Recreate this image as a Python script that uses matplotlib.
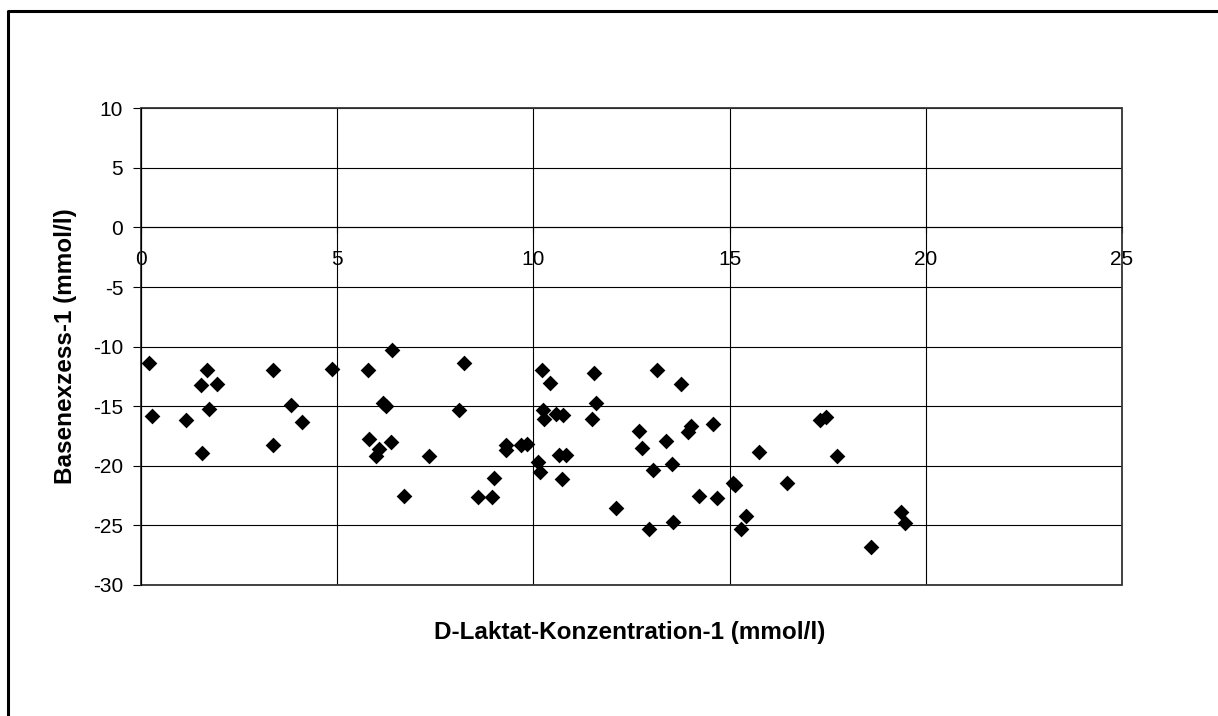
import matplotlib
matplotlib.use("Agg")
import matplotlib.pyplot as plt
from matplotlib.lines import Line2D
from matplotlib.patches import Rectangle
import numpy as np

plt.rcParams['font.family'] = ['Liberation Sans', 'DejaVu Sans']
plt.rcParams['axes.unicode_minus'] = False

# D-Laktat (mmol/l) vs. Basenexzess (mmol/l)
d_laktat = [0.20, 0.27, 1.13, 1.68, 1.51, 1.93, 1.72, 1.54, 3.37, 3.37,
            3.81, 4.10, 4.87, 5.77, 6.40, 6.16, 6.24, 8.09, 8.24, 5.80,
            6.06, 5.99, 6.38, 7.34, 6.70, 9.00, 8.58, 8.94, 9.30, 9.30,
            9.69, 9.83, 10.21, 10.43, 10.24, 10.26, 10.57, 10.75, 10.11, 10.17,
            10.65, 10.83, 10.74, 11.54, 11.60, 11.50, 12.11, 12.70, 12.77, 13.16,
            13.06, 12.95, 13.37, 13.53, 13.57, 13.76, 14.01, 13.95, 14.59, 14.21,
            14.67, 15.10, 15.15, 15.75, 15.42, 15.29, 17.30, 17.46, 17.73, 16.46,
            19.36, 19.47, 18.61]
basenexzess = [-11.38, -15.84, -16.18, -11.97, -13.20, -13.11, -15.19, -18.96, -11.97, -18.28,
               -14.88, -16.29, -11.89, -11.97, -10.31, -14.77, -14.94, -15.34, -11.38, -17.74,
               -18.62, -19.21, -18.03, -19.21, -22.52, -21.06, -22.58, -22.63, -18.22, -18.64,
               -18.22, -18.14, -11.97, -13.03, -15.28, -16.06, -15.61, -15.76, -19.71, -20.56,
               -19.09, -19.09, -21.09, -12.19, -14.77, -16.06, -23.55, -17.10, -18.50, -11.97,
               -20.35, -25.32, -17.91, -19.82, -24.68, -13.11, -16.62, -17.13, -16.52, -22.54,
               -22.74, -21.40, -21.57, -18.81, -24.20, -25.27, -16.12, -15.93, -19.21, -21.42,
               -23.84, -24.79, -26.78]

x_ticks = [0, 5, 10, 15, 20, 25]
y_ticks = [10, 5, 0, -5, -10, -15, -20, -25, -30]

W, H = 1218, 716
fig = plt.figure(figsize=(W / 100, H / 100), dpi=100)
ax = fig.add_axes([141.3 / W, 1 - 585 / H, (1121.7 - 141.3) / W, (585 - 108.3) / H])

ax.scatter(d_laktat, basenexzess, marker='D', s=64, color='black', zorder=3,
           linewidths=0)

ax.set_xlim(0, 25)
ax.set_ylim(-30, 10)
ax.set_xticks(x_ticks)
ax.set_yticks(y_ticks)
ax.grid(True, color='black', linewidth=0.8)
ax.set_axisbelow(True)

# plot area border
ax.add_patch(Rectangle((0, 0), 1, 1, transform=ax.transAxes, fill=False,
                       edgecolor='#333333', linewidth=1.3, clip_on=False, zorder=2))

for s in ['top', 'right']:
    ax.spines[s].set_visible(False)
ax.spines['bottom'].set_position(('data', 0))
ax.spines['left'].set_linewidth(0.8)
ax.spines['bottom'].set_linewidth(0.8)

ax.tick_params(axis='y', direction='out', length=6, width=0.8, pad=7, labelsize=15)
ax.tick_params(axis='x', direction='out', length=4, width=0.8, pad=12, labelsize=15)

fig.text(630 / W, 1 - 633 / H, 'D-Laktat-Konzentration-1 (mmol/l)',
         ha='center', va='center', fontsize=17.5, fontweight='bold')
fig.text(66 / W, 1 - 346 / H, 'Basenexzess-1 (mmol/l)', rotation=90,
         ha='center', va='center', fontsize=17.5, fontweight='bold')

# outer chart frame
fig.add_artist(Line2D([8 / W, 8 / W, 1], [0, 1 - 11 / H, 1 - 11 / H],
                      color='black', linewidth=2.2))

fig.savefig('out.png', dpi=100, facecolor='white')
